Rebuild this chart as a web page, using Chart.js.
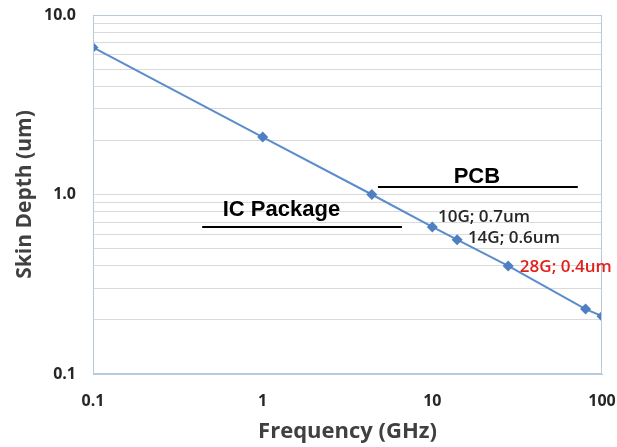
<!DOCTYPE html>
<html>
<head>
<meta charset="utf-8">
<script src="https://cdn.jsdelivr.net/npm/chart.js@4"></script>
<style>
  html, body { margin: 0; padding: 0; background: #fff; }
  #wrap { width: 617px; height: 447px; }
</style>
</head>
<body>
<div id="wrap"><canvas id="skin-canvas" width="617" height="447"></canvas></div>
<script>
// frequency (GHz) and copper skin depth (um)
var frequencies = [0.1, 1, 4.4, 10, 14, 28, 80, 100];
var skinDepths = [6.6, 2.09, 1.0, 0.66, 0.56, 0.40, 0.23, 0.21];
var xTicks = [0.1, 1, 10, 100];
var yDecades = [0.1, 1, 10];

// text notes, anchored at their baseline in data coordinates
var notes = [
    { text: '10G; 0.7um', x: 10.8, y: 0.703, color: '#262626', font: '600 17px "Open Sans"' },
    { text: '14G; 0.6um', x: 16.2, y: 0.537, color: '#262626', font: '600 17px "Open Sans"' },
    { text: '28G; 0.4um', x: 32.8, y: 0.37, color: '#e0201b', font: '600 17px "Open Sans"' },
    { text: 'PCB', x: 18.3, y: 1.16, color: '#000', font: 'bold 22px "Liberation Sans"', center: true },
    { text: 'IC Package', x: 1.29, y: 0.759, color: '#000', font: 'bold 22px "Liberation Sans"', center: true }
];
var underlines = [
    { x1: 4.78, x2: 72, y: 1.10 },
    { x1: 0.44, x2: 6.62, y: 0.659 }
];

var yTicks = [];
yDecades.forEach(function (d, i) {
    if (i < yDecades.length - 1) {
        for (var m = 1; m < 10; m++) yTicks.push(+(d * m).toPrecision(3));
    } else {
        yTicks.push(d);
    }
});

var notesPlugin = {
    id: 'notes',
    afterDatasetsDraw: function (chart) {
        var ctx = chart.ctx, xs = chart.scales.x, ys = chart.scales.y, a = chart.chartArea;
        ctx.save();
        // plot frame
        ctx.strokeStyle = '#b9c9dc';
        ctx.lineWidth = 1;
        ctx.strokeRect(a.left + 0.5, a.top + 0.5, a.right - a.left - 1, a.bottom - a.top - 1);
        ctx.strokeStyle = '#000';
        ctx.lineWidth = 2;
        underlines.forEach(function (u) {
            var py = Math.round(ys.getPixelForValue(u.y));
            ctx.beginPath();
            ctx.moveTo(xs.getPixelForValue(u.x1), py);
            ctx.lineTo(xs.getPixelForValue(u.x2), py);
            ctx.stroke();
        });
        ctx.textBaseline = 'alphabetic';
        notes.forEach(function (n) {
            ctx.font = n.font;
            ctx.fillStyle = n.color;
            ctx.textAlign = n.center ? 'center' : 'left';
            ctx.fillText(n.text, xs.getPixelForValue(n.x), ys.getPixelForValue(n.y));
        });
        ctx.restore();
    }
};

var skinConfig = {
    type: 'line',
    data: {
        datasets: [{
            data: frequencies.map(function (f, i) { return { x: f, y: skinDepths[i] }; }),
            borderColor: '#5b8ccb',
            backgroundColor: '#4f7fc0',
            borderWidth: 2,
            pointStyle: 'rectRot',
            pointRadius: 5.5,
            pointBorderWidth: 0,
            tension: 0
        }]
    },
    options: {
        responsive: false,
        animation: false,
        layout: { padding: { top: 15, right: 15, left: 0, bottom: 0 } },
        plugins: { legend: { display: false }, tooltip: { enabled: false } },
        scales: {
            x: {
                type: 'logarithmic',
                min: 0.1,
                max: 100,
                afterBuildTicks: function (s) { s.ticks = xTicks.map(function (v) { return { value: v }; }); },
                afterFit: function (s) { s.height = 73; s.paddingLeft = 0; s.paddingRight = 0; },
                grid: { display: false },
                border: { color: '#b9c9dc' },
                ticks: {
                    color: '#262626',
                    font: { family: 'Open Sans', size: 16, weight: 'bold' },
                    padding: 10,
                    maxRotation: 0,
                    callback: function (v) { return String(v); }
                },
                title: {
                    display: true,
                    text: 'Frequency (GHz)',
                    color: '#404040',
                    font: { family: 'Open Sans', size: 22, weight: 'bold' },
                    padding: { top: 4, bottom: 2 }
                }
            },
            y: {
                type: 'logarithmic',
                min: 0.1,
                max: 10,
                afterBuildTicks: function (s) { s.ticks = yTicks.map(function (v) { return { value: v }; }); },
                afterFit: function (s) { s.width = 93; s.paddingTop = 0; s.paddingBottom = 0; },
                grid: {
                    color: '#dadada',
                    lineWidth: 1,
                    drawTicks: false
                },
                border: { color: '#b9c9dc' },
                ticks: {
                    color: '#262626',
                    font: { family: 'Open Sans', size: 16, weight: 'bold' },
                    padding: 17,
                    autoSkip: false,
                    callback: function (v) {
                        return yDecades.indexOf(v) >= 0 ? v.toFixed(1) : '';
                    }
                },
                title: {
                    display: true,
                    text: 'Skin Depth (um)',
                    color: '#404040',
                    font: { family: 'Open Sans', size: 21, weight: 'bold' },
                    padding: { top: 12, bottom: 6 }
                }
            }
        }
    },
    plugins: [notesPlugin]
};

var ctx = document.getElementById('skin-canvas').getContext('2d');
window.skinChart = new Chart(ctx, skinConfig);
</script>
</body>
</html>
